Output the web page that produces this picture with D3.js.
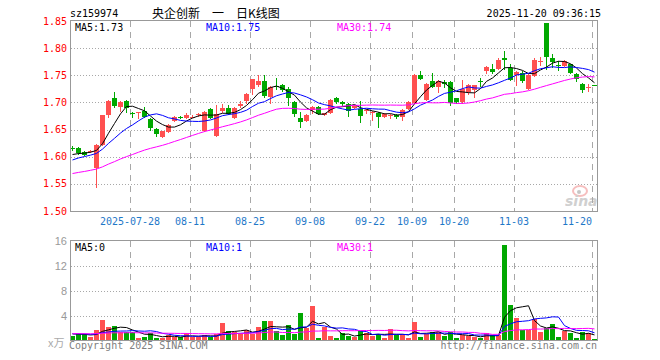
<!DOCTYPE html>
<meta charset="utf-8">
<html>
  <head>
	<script src="https://cdnjs.cloudflare.com/ajax/libs/d3/7.8.5/d3.min.js"></script>
	<style>
		body { margin: 0; background: #fff; }
		text { font-family: "DejaVu Sans Mono", monospace; font-size: 10px; }
	</style>
  </head>

<body>
	<div id='kline-container'>
		<div id='kline-chart'></div>
	</div>
</body>
<script>

//trading days shown, 2025-07-14 .. 2025-11-20
var dates = ["07-14","07-15","07-16","07-17","07-18","07-21","07-22","07-23","07-24","07-25",
	"07-28","07-29","07-30","07-31","08-01","08-04","08-05","08-06","08-07","08-08",
	"08-11","08-12","08-13","08-14","08-15","08-18","08-19","08-20","08-21","08-22",
	"08-25","08-26","08-27","08-28","08-29","09-01","09-02","09-03","09-04","09-05",
	"09-08","09-09","09-10","09-11","09-12","09-15","09-16","09-17","09-18","09-19",
	"09-22","09-23","09-24","09-25","09-26","09-29","09-30","10-09","10-10","10-13",
	"10-14","10-15","10-16","10-17","10-20","10-21","10-22","10-23","10-24","10-27",
	"10-28","10-29","10-30","10-31","11-03","11-04","11-05","11-06","11-07","11-10",
	"11-11","11-12","11-13","11-14","11-17","11-18","11-19","11-20"];

var open = [1.616,1.616,1.609,1.608,1.580,1.621,1.677,1.709,1.692,1.703,
	1.680,1.681,1.684,1.670,1.651,1.637,1.645,1.666,1.674,1.671,
	1.673,1.678,1.648,1.688,1.638,1.684,1.690,1.672,1.693,1.702,
	1.725,1.732,1.739,1.710,1.731,1.732,1.724,1.700,1.671,1.666,
	1.686,1.692,1.677,1.680,1.708,1.700,1.697,1.690,1.688,1.684,
	1.680,1.680,1.673,1.675,1.677,1.673,1.688,1.699,1.751,1.705,
	1.740,1.729,1.738,1.737,1.708,1.700,1.720,1.723,1.740,1.757,
	1.762,1.762,1.781,1.763,1.750,1.754,1.725,1.749,1.774,1.846,
	1.781,1.769,1.768,1.770,1.753,1.734,1.727,1.732];
var high = [1.619,1.617,1.611,1.613,1.624,1.677,1.704,1.720,1.702,1.704,
	1.682,1.682,1.692,1.671,1.653,1.648,1.660,1.675,1.675,1.680,
	1.676,1.681,1.684,1.690,1.695,1.697,1.696,1.691,1.702,1.717,
	1.744,1.750,1.751,1.730,1.745,1.734,1.728,1.702,1.682,1.678,
	1.694,1.693,1.681,1.707,1.710,1.703,1.699,1.696,1.702,1.687,
	1.684,1.682,1.680,1.679,1.679,1.688,1.703,1.752,1.757,1.736,
	1.754,1.741,1.741,1.739,1.709,1.741,1.734,1.733,1.745,1.768,
	1.770,1.781,1.795,1.770,1.758,1.758,1.752,1.782,1.784,1.847,
	1.789,1.776,1.778,1.771,1.755,1.736,1.734,1.733];
var low = [1.611,1.603,1.601,1.606,1.542,1.619,1.671,1.689,1.683,1.681,
	1.671,1.670,1.671,1.648,1.637,1.635,1.643,1.664,1.670,1.670,
	1.671,1.674,1.646,1.669,1.636,1.681,1.677,1.670,1.690,1.697,
	1.714,1.729,1.709,1.697,1.722,1.720,1.694,1.674,1.653,1.664,
	1.678,1.676,1.675,1.678,1.697,1.694,1.674,1.688,1.663,1.678,
	1.666,1.653,1.671,1.670,1.670,1.665,1.686,1.697,1.741,1.703,
	1.727,1.717,1.727,1.694,1.697,1.698,1.714,1.709,1.729,1.752,
	1.753,1.760,1.760,1.740,1.730,1.735,1.723,1.747,1.767,1.760,
	1.764,1.757,1.766,1.753,1.737,1.717,1.719,1.730];
var close = [1.614,1.607,1.604,1.611,1.622,1.676,1.703,1.694,1.700,1.689,
	1.679,1.682,1.673,1.652,1.642,1.647,1.659,1.673,1.673,1.677,
	1.674,1.679,1.682,1.671,1.678,1.690,1.679,1.690,1.697,1.716,
	1.743,1.739,1.711,1.728,1.730,1.722,1.708,1.679,1.664,1.677,
	1.692,1.679,1.680,1.705,1.700,1.697,1.685,1.694,1.675,1.686,
	1.682,1.673,1.679,1.677,1.673,1.686,1.700,1.751,1.743,1.734,
	1.729,1.739,1.734,1.699,1.700,1.725,1.732,1.732,1.739,1.766,
	1.756,1.779,1.779,1.742,1.756,1.739,1.750,1.778,1.776,1.783,
	1.775,1.767,1.776,1.755,1.744,1.723,1.728,1.731];
//closes before 07-14, only used so the moving averages start where they do
var priorClose = [1.545,1.550,1.548,1.552,1.555,1.550,1.558,1.553,1.560,1.562,
	1.557,1.554,1.556,1.559,1.562,1.558,1.561,1.566,1.563,1.561,
	1.570,1.578,1.585,1.590,1.597,1.598,1.600,1.603,1.605];

//volume, in 万
var volume = [0.8,1.05,1.05,0.6,1.7,3.3,2.2,2.35,1.45,1.4,
	1.4,0.5,0.65,1.3,0.5,0.4,0.9,0.65,0.65,1.3,
	0.6,0.6,1.0,0.6,1.15,2.85,1.55,1.45,1.1,1.8,
	1.15,2.2,3.2,3.2,1.55,0.9,2.5,1.15,4.4,2.05,
	5.55,0.5,2.2,0.8,0.43,1.3,0.8,0.6,1.6,1.3,
	0.8,1.05,0.5,1.9,0.95,0.95,0.55,2.95,0.6,1.1,
	1.4,1.4,0.8,1.4,0.43,1.0,0.8,0.65,0.43,1.3,
	0.95,0.95,15.25,5.7,3.6,1.75,1.75,3.45,1.4,2.0,
	2.65,0.6,1.6,1.2,0.55,1.45,1.35,0.3];
var priorVolume = [1.3,1.1,1.2,1.0,1.4,1.2,1.1,1.3,1.2,1.0,
	1.2,1.3,1.1,1.2,1.4,1.0,1.2,1.1,1.3,1.2,
	1.2,1.1,1.3,1.2,1.0,1.3,1.2,1.1,1.3];

//axis labels
var priceTicks = [1.50,1.55,1.60,1.65,1.70,1.75,1.80,1.85];
var volumeTicks = [4,8,12,16];
var tickDates = ["07-28","08-11","08-25","09-08","09-22","10-09","10-20","11-03","11-20"];
var tickLabels = ["2025-07-28","08-11","08-25","09-08","09-22","10-09","10-20","11-03","11-20"];
var maPeriods = [5,10,30];

var upColor = "#ff5050";
var downColor = "#00a800";
var maColors = ["#000000","#0000ff","#ff00ff"];
var gridColor = "#a8a8a8";
var frameColor = "#999999";

//simple moving average, with earlier values in front of the window
function movingAverage(values, prior, n) {
	var all = prior.concat(values);
	return values.map(function(d, i) {
		var end = prior.length + i + 1;
		return d3.mean(all.slice(end - n, end));
	});
}

function trunc(v, digits) {
	var f = Math.pow(10, digits);
	return (Math.floor(v * f + 1e-9) / f).toFixed(digits);
}

var drawGraph = function(){

	const width = 660;
	const height = 360;

	var svg = d3.select('#kline-chart')
		.append('svg')
		.attr("width", width)
		.attr("height", height)
		.style('display', 'block')
		.style('background-color', '#fff');

	//candle slots, 6px each
	var x = d3.scaleBand()
		.domain(d3.range(dates.length))
		.range([70, 598]);

	var y = d3.scaleLinear()
		.domain([1.50, 1.85])
		.range([211, 21]);

	var yv = d3.scaleLinear()
		.domain([0, 16])
		.range([341, 240.5]);

	var bodyW = x.bandwidth() - 1;
	var mid = function(i){ return x(i) + 2.5; };
	var px = function(v){ return Math.round(v) + 0.5; };

	// ---------- header ----------
	svg.append("text").attr("x", 70).attr("y", 17).text("sz159974");
	svg.append("text").attr("x", 152).attr("y", 18)
		.style("font-family", "'Noto Sans CJK SC', sans-serif")
		.style("font-size", "12px")
		.text("央企创新　一　日K线图");
	svg.append("text").attr("x", 601).attr("y", 17)
		.attr("text-anchor", "end")
		.text("2025-11-20 09:36:15");

	// ---------- price panel ----------
	var price = svg.append("g").attr("shape-rendering", "crispEdges");

	price.selectAll(".hgrid")
		.data(priceTicks.slice(1, -1))
		.enter().append("line")
		.attr("x1", 71).attr("x2", 597)
		.attr("y1", function(d){ return px(y(d)); })
		.attr("y2", function(d){ return px(y(d)); })
		.style("stroke", gridColor)
		.style("stroke-dasharray", "1,2");

	price.selectAll(".vgrid")
		.data(tickDates)
		.enter().append("line")
		.attr("x1", function(d){ return x(dates.indexOf(d)) + 0.5; })
		.attr("x2", function(d){ return x(dates.indexOf(d)) + 0.5; })
		.attr("y1", 21).attr("y2", 211)
		.style("stroke", gridColor)
		.style("stroke-dasharray", "6,5");

	price.selectAll(".plabel")
		.data(priceTicks)
		.enter().append("text")
		.attr("x", 67)
		.attr("y", function(d){ return y(d) + 3.5; })
		.attr("text-anchor", "end")
		.style("fill", "#ff0000")
		.text(function(d){ return d.toFixed(2); });

	//last date label is pulled inside the frame
	price.selectAll(".dlabel")
		.data(tickDates)
		.enter().append("text")
		.attr("x", function(d){ return x(dates.indexOf(d)); })
		.attr("y", 225)
		.attr("text-anchor", function(d, k){ return k == tickDates.length - 1 ? "end" : "middle"; })
		.style("fill", "#1f78c8")
		.text(function(d, k){ return tickLabels[k]; });

	//sina watermark
	var wm = svg.append("g").style("opacity", 0.55);
	wm.append("ellipse").attr("cx", 580).attr("cy", 191).attr("rx", 7).attr("ry", 5)
		.style("fill", "none").style("stroke", "#f08a8a").style("stroke-width", 2);
	wm.append("circle").attr("cx", 579).attr("cy", 192).attr("r", 2).style("fill", "#999");
	wm.append("text").attr("x", 565).attr("y", 206)
		.style("font-family", "'DejaVu Sans', sans-serif")
		.style("font-size", "14px").style("font-weight", "bold").style("font-style", "italic")
		.style("fill", "#aaa")
		.text("sina");

	var candles = price.selectAll(".candle")
		.data(dates)
		.enter().append("g");

	candles.append("line")
		.attr("x1", function(d, i){ return mid(i); })
		.attr("x2", function(d, i){ return mid(i); })
		.attr("y1", function(d, i){ return y(high[i]); })
		.attr("y2", function(d, i){ return y(low[i]); })
		.style("stroke", function(d, i){ return close[i] >= open[i] ? upColor : downColor; });

	candles.append("rect")
		.attr("x", function(d, i){ return x(i); })
		.attr("width", bodyW)
		.attr("y", function(d, i){ return Math.round(y(Math.max(open[i], close[i]))); })
		.attr("height", function(d, i){
			return Math.max(1, Math.round(y(Math.min(open[i], close[i]))) - Math.round(y(Math.max(open[i], close[i]))));
		})
		.style("fill", function(d, i){ return close[i] >= open[i] ? upColor : downColor; });

	var priceLine = d3.line()
		.x(function(d, i){ return mid(i); })
		.y(function(d){ return y(d); });

	maPeriods.forEach(function(n, k){
		var ma = movingAverage(close, priorClose, n);
		svg.append("path")
			.attr("d", priceLine(ma))
			.style("fill", "none")
			.style("stroke", maColors[k])
			.style("stroke-width", 1);
		svg.append("text")
			.attr("x", [75, 206, 337][k]).attr("y", 31)
			.style("fill", maColors[k])
			.text("MA" + n + ":" + trunc(ma[ma.length - 1], 2));
	});

	price.append("rect")
		.attr("x", 70.5).attr("y", 20.5)
		.attr("width", 527).attr("height", 191)
		.style("fill", "none")
		.style("stroke", frameColor);

	// ---------- volume panel ----------
	var vol = svg.append("g").attr("shape-rendering", "crispEdges");

	vol.selectAll(".hgrid")
		.data(volumeTicks.slice(0, -1))
		.enter().append("line")
		.attr("x1", 71).attr("x2", 597)
		.attr("y1", function(d){ return px(yv(d)); })
		.attr("y2", function(d){ return px(yv(d)); })
		.style("stroke", gridColor)
		.style("stroke-dasharray", "1,2");

	vol.selectAll(".vgrid")
		.data(tickDates)
		.enter().append("line")
		.attr("x1", function(d){ return x(dates.indexOf(d)) + 0.5; })
		.attr("x2", function(d){ return x(dates.indexOf(d)) + 0.5; })
		.attr("y1", 241).attr("y2", 341)
		.style("stroke", gridColor)
		.style("stroke-dasharray", "6,5");

	vol.selectAll(".vlabel")
		.data(volumeTicks)
		.enter().append("text")
		.attr("x", 67)
		.attr("y", function(d){ return yv(d) + 4; })
		.attr("text-anchor", "end")
		.style("font-family", "'Liberation Sans', sans-serif")
		.style("font-size", "11px")
		.style("fill", "#999")
		.text(function(d){ return d; });

	svg.append("text").attr("x", 48).attr("y", 347)
		.style("font-family", "'Noto Sans CJK SC', sans-serif")
		.style("font-size", "11px")
		.style("fill", "#aaa")
		.text("x万");

	vol.selectAll(".bar")
		.data(volume)
		.enter().append("rect")
		.attr("x", function(d, i){ return x(i); })
		.attr("width", bodyW)
		.attr("y", function(d){ return Math.round(yv(d)); })
		.attr("height", function(d){ return 341 - Math.round(yv(d)); })
		.style("fill", function(d, i){ return close[i] >= open[i] ? upColor : downColor; });

	var volLine = d3.line()
		.x(function(d, i){ return mid(i); })
		.y(function(d){ return yv(d); });

	maPeriods.forEach(function(n, k){
		var ma = movingAverage(volume, priorVolume, n);
		svg.append("path")
			.attr("d", volLine(ma))
			.style("fill", "none")
			.style("stroke", maColors[k])
			.style("stroke-width", 1);
		svg.append("text")
			.attr("x", [75, 206, 337][k]).attr("y", 251)
			.style("fill", maColors[k])
			.text("MA" + n + ":" + Math.floor(ma[ma.length - 1]));
	});

	vol.append("rect")
		.attr("x", 70.5).attr("y", 240.5)
		.attr("width", 527).attr("height", 100)
		.style("fill", "none")
		.style("stroke", frameColor);

	// ---------- footer ----------
	svg.append("text").attr("x", 69).attr("y", 349)
		.style("fill", "#808080")
		.text("Copyright 2025 SINA.COM");
	svg.append("text").attr("x", 597).attr("y", 349)
		.attr("text-anchor", "end")
		.style("fill", "#808080")
		.text("http://finance.sina.com.cn");
}

	//call function to draw the graph
	drawGraph();

</script>
</html>
